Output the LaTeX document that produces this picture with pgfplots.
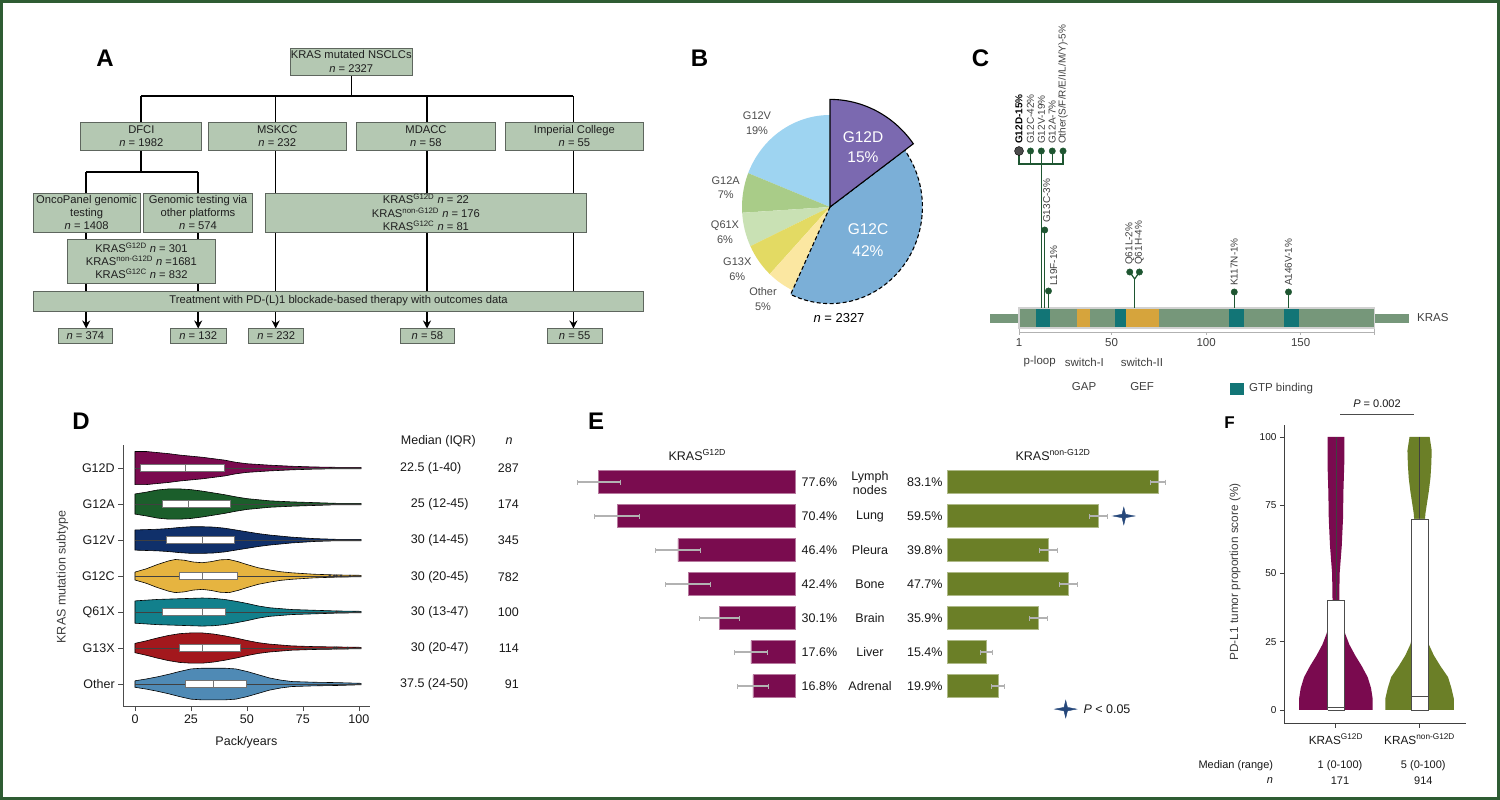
\documentclass[border=0pt]{standalone}
\usepackage{pgfplots}
\pgfplotsset{compat=1.18}
\usepackage{pgfplotstable}
\usetikzlibrary{arrows.meta}
\usepackage{fontspec}
\setmainfont{Liberation Sans}

\definecolor{frameg}{HTML}{2E5C33}
\definecolor{boxg}{HTML}{B4C8B2}
\definecolor{boxd}{HTML}{5E665E}
\definecolor{pG12D}{HTML}{7B69B0}
\definecolor{pG12C}{HTML}{7BAFD7}
\definecolor{pG12V}{HTML}{9ED4F1}
\definecolor{pG12A}{HTML}{A9CC88}
\definecolor{pQ61X}{HTML}{C9E1B4}
\definecolor{pG13X}{HTML}{E3DA63}
\definecolor{pOther}{HTML}{FBE7A1}
\definecolor{prot}{HTML}{76977A}
\definecolor{gtp}{HTML}{127576}
\definecolor{swc}{HTML}{D6A43C}
\definecolor{stem}{HTML}{1E5631}
\definecolor{vGD}{HTML}{7A0A4F}
\definecolor{vGA}{HTML}{1B5E2B}
\definecolor{vGV}{HTML}{10306A}
\definecolor{vGC}{HTML}{E6B440}
\definecolor{vQX}{HTML}{12808C}
\definecolor{vGX}{HTML}{A3181D}
\definecolor{vOT}{HTML}{4F8AB5}
\definecolor{mag}{HTML}{7A0C4F}
\definecolor{oli}{HTML}{6B7F27}
\definecolor{starc}{HTML}{25477A}

\pgfdeclareplotmark{star4}{%
  \pgfpathmoveto{\pgfqpoint{0pt}{0.8\pgfplotmarksize}}%
  \pgfpathlineto{\pgfqpoint{0.16\pgfplotmarksize}{0.16\pgfplotmarksize}}%
  \pgfpathlineto{\pgfqpoint{\pgfplotmarksize}{0pt}}%
  \pgfpathlineto{\pgfqpoint{0.16\pgfplotmarksize}{-0.16\pgfplotmarksize}}%
  \pgfpathlineto{\pgfqpoint{0pt}{-0.8\pgfplotmarksize}}%
  \pgfpathlineto{\pgfqpoint{-0.16\pgfplotmarksize}{-0.16\pgfplotmarksize}}%
  \pgfpathlineto{\pgfqpoint{-\pgfplotmarksize}{0pt}}%
  \pgfpathlineto{\pgfqpoint{-0.16\pgfplotmarksize}{0.16\pgfplotmarksize}}%
  \pgfpathclose
  \pgfusepathqfillstroke}

% ---------- Panel D violin outlines: pack/years x, signed half width w (upper side forward, lower side back)
\pgfplotstableread[row sep=\\]{
x w\\ 0 0.46\\ 5 0.46\\ 10 0.43\\ 15 0.40\\ 20 0.36\\ 25 0.33\\ 30 0.30\\ 35 0.26\\ 40 0.22\\ 45 0.16\\ 50 0.12\\ 60 0.08\\ 70 0.05\\ 80 0.03\\ 90 0.02\\ 101 0.02\\
101 -0.02\\ 90 -0.02\\ 80 -0.03\\ 70 -0.05\\ 60 -0.08\\ 50 -0.12\\ 45 -0.16\\ 40 -0.22\\ 35 -0.26\\ 30 -0.30\\ 25 -0.33\\ 20 -0.36\\ 15 -0.40\\ 10 -0.43\\ 5 -0.46\\ 0 -0.46\\ 0 0.46\\
}\vtGD
\pgfplotstableread[row sep=\\]{
x w\\ 0 0.28\\ 5 0.33\\ 10 0.39\\ 15 0.42\\ 20 0.42\\ 25 0.40\\ 30 0.36\\ 35 0.31\\ 40 0.26\\ 45 0.20\\ 50 0.15\\ 60 0.09\\ 70 0.06\\ 80 0.04\\ 90 0.02\\ 101 0.02\\
101 -0.02\\ 90 -0.02\\ 80 -0.04\\ 70 -0.06\\ 60 -0.09\\ 50 -0.15\\ 45 -0.20\\ 40 -0.26\\ 35 -0.31\\ 30 -0.36\\ 25 -0.40\\ 20 -0.42\\ 15 -0.42\\ 10 -0.39\\ 5 -0.33\\ 0 -0.28\\ 0 0.28\\
}\vtGA
\pgfplotstableread[row sep=\\]{
x w\\ 0 0.28\\ 5 0.29\\ 10 0.30\\ 15 0.32\\ 20 0.35\\ 25 0.37\\ 30 0.37\\ 35 0.36\\ 40 0.33\\ 45 0.28\\ 50 0.23\\ 55 0.18\\ 60 0.14\\ 70 0.08\\ 80 0.04\\ 90 0.02\\ 101 0.02\\
101 -0.02\\ 90 -0.02\\ 80 -0.04\\ 70 -0.08\\ 60 -0.14\\ 55 -0.18\\ 50 -0.23\\ 45 -0.28\\ 40 -0.33\\ 35 -0.36\\ 30 -0.37\\ 25 -0.37\\ 20 -0.35\\ 15 -0.32\\ 10 -0.30\\ 5 -0.29\\ 0 -0.28\\ 0 0.28\\
}\vtGV
\pgfplotstableread[row sep=\\]{
x w\\ 0 0.11\\ 5 0.20\\ 10 0.32\\ 15 0.42\\ 18 0.46\\ 22 0.44\\ 26 0.39\\ 30 0.37\\ 34 0.40\\ 38 0.45\\ 42 0.46\\ 46 0.40\\ 50 0.32\\ 55 0.23\\ 60 0.17\\ 65 0.12\\ 70 0.09\\ 80 0.05\\ 90 0.03\\ 101 0.02\\
101 -0.02\\ 90 -0.03\\ 80 -0.05\\ 70 -0.09\\ 65 -0.12\\ 60 -0.17\\ 55 -0.23\\ 50 -0.32\\ 46 -0.40\\ 42 -0.46\\ 38 -0.45\\ 34 -0.40\\ 30 -0.37\\ 26 -0.39\\ 22 -0.44\\ 18 -0.46\\ 15 -0.42\\ 10 -0.32\\ 5 -0.20\\ 0 -0.11\\ 0 0.11\\
}\vtGC
\pgfplotstableread[row sep=\\]{
x w\\ 0 0.31\\ 5 0.33\\ 10 0.35\\ 20 0.37\\ 25 0.38\\ 30 0.39\\ 35 0.38\\ 40 0.35\\ 45 0.30\\ 50 0.24\\ 55 0.17\\ 60 0.12\\ 70 0.07\\ 80 0.05\\ 90 0.03\\ 101 0.02\\
101 -0.02\\ 90 -0.03\\ 80 -0.05\\ 70 -0.07\\ 60 -0.12\\ 55 -0.17\\ 50 -0.24\\ 45 -0.30\\ 40 -0.35\\ 35 -0.38\\ 30 -0.39\\ 25 -0.38\\ 20 -0.37\\ 10 -0.35\\ 5 -0.33\\ 0 -0.31\\ 0 0.31\\
}\vtQX
\pgfplotstableread[row sep=\\]{
x w\\ 0 0.13\\ 5 0.20\\ 10 0.28\\ 15 0.35\\ 20 0.40\\ 25 0.42\\ 30 0.42\\ 35 0.39\\ 40 0.34\\ 45 0.28\\ 50 0.21\\ 55 0.15\\ 60 0.11\\ 70 0.06\\ 80 0.04\\ 90 0.03\\ 101 0.02\\
101 -0.02\\ 90 -0.03\\ 80 -0.04\\ 70 -0.06\\ 60 -0.11\\ 55 -0.15\\ 50 -0.21\\ 45 -0.28\\ 40 -0.34\\ 35 -0.39\\ 30 -0.42\\ 25 -0.42\\ 20 -0.40\\ 15 -0.35\\ 10 -0.28\\ 5 -0.20\\ 0 -0.13\\ 0 0.13\\
}\vtGX
\pgfplotstableread[row sep=\\]{
x w\\ 0 0.09\\ 5 0.14\\ 10 0.20\\ 15 0.27\\ 20 0.35\\ 25 0.42\\ 30 0.44\\ 35 0.44\\ 40 0.44\\ 45 0.42\\ 50 0.35\\ 55 0.26\\ 60 0.17\\ 65 0.11\\ 70 0.07\\ 80 0.05\\ 90 0.04\\ 101 0.02\\
101 -0.02\\ 90 -0.04\\ 80 -0.05\\ 70 -0.07\\ 65 -0.11\\ 60 -0.17\\ 55 -0.26\\ 50 -0.35\\ 45 -0.42\\ 40 -0.44\\ 35 -0.44\\ 30 -0.44\\ 25 -0.42\\ 20 -0.35\\ 15 -0.27\\ 10 -0.20\\ 5 -0.14\\ 0 -0.09\\ 0 0.09\\
}\vtOT
% ---------- Panel F violin outlines: score y, signed half width w
\pgfplotstableread[row sep=\\]{
y w\\ 0 0.44\\ 4 0.44\\ 8 0.42\\ 12 0.38\\ 16 0.31\\ 20 0.23\\ 24 0.16\\ 28 0.11\\ 32 0.08\\ 36 0.05\\ 40 0.04\\ 50 0.045\\ 60 0.07\\ 70 0.085\\ 80 0.09\\ 90 0.10\\ 100 0.10\\
100 -0.10\\ 90 -0.10\\ 80 -0.09\\ 70 -0.085\\ 60 -0.07\\ 50 -0.045\\ 40 -0.04\\ 36 -0.05\\ 32 -0.08\\ 28 -0.11\\ 24 -0.16\\ 20 -0.23\\ 16 -0.31\\ 12 -0.38\\ 8 -0.42\\ 4 -0.44\\ 0 -0.44\\ 0 0.44\\
}\vfGD
\pgfplotstableread[row sep=\\]{
y w\\ 0 0.41\\ 4 0.41\\ 8 0.38\\ 12 0.34\\ 16 0.25\\ 20 0.17\\ 24 0.11\\ 28 0.08\\ 32 0.06\\ 40 0.05\\ 50 0.05\\ 60 0.05\\ 68 0.06\\ 72 0.07\\ 76 0.09\\ 80 0.11\\ 85 0.13\\ 90 0.14\\ 95 0.145\\ 100 0.12\\
100 -0.12\\ 95 -0.145\\ 90 -0.14\\ 85 -0.13\\ 80 -0.11\\ 76 -0.09\\ 72 -0.07\\ 68 -0.06\\ 60 -0.05\\ 50 -0.05\\ 40 -0.05\\ 32 -0.06\\ 28 -0.08\\ 24 -0.11\\ 20 -0.17\\ 16 -0.25\\ 12 -0.34\\ 8 -0.38\\ 4 -0.41\\ 0 -0.41\\ 0 0.41\\
}\vfNG

\newcommand{\violinD}[3]{%
  \addplot[fill=#3, draw=black, line width=0.6pt] table[x=x, y expr=#2+\thisrow{w}] {#1};
  \addplot[black!75, line width=0.5pt] coordinates {(0,#2) (101,#2)};
}
\newcommand{\kr}[1]{KRAS\textsuperscript{#1}}
\newcommand{\flowbox}[5]{%
  \filldraw[fill=boxg, draw=boxd, line width=0.9pt] (#1,#2) rectangle (#3,#4);
  \node[fA] at ({(#1+#3)/2},{(#2+#4)/2}) {#5};}

\begin{document}
\begin{tikzpicture}[
  fA/.style={font=\fontsize{11.2}{13.2}\selectfont, align=center, inner sep=0pt, text=black!88},
  fB/.style={font=\fontsize{11}{14.5}\selectfont, align=center, inner sep=0pt, text=black!70},
  fC/.style={font=\fontsize{11.5}{13}\selectfont, inner sep=0pt, text=black!75},
  fCr/.style={font=\fontsize{10}{12}\selectfont, rotate=90, anchor=west, inner sep=0pt, text=black!75},
  fD/.style={font=\fontsize{12.5}{14}\selectfont, inner sep=0pt, text=black!90},
  fE/.style={font=\fontsize{12.5}{14}\selectfont, inner sep=0pt, align=center, text=black!90},
  fF/.style={font=\fontsize{11}{13}\selectfont, inner sep=0pt, text=black!90},
  lab/.style={font=\fontsize{24}{24}\selectfont\bfseries, inner sep=0pt}]
\useasboundingbox (0pt,0pt) rectangle (1500pt,-800pt);
\fill[white] (0pt,0pt) rectangle (1500pt,-800pt);

% ================= Panel B (pie) =================
\begin{axis}[at={(760pt,-327pt)}, anchor=south west, x=1pt, y=1pt,
  xmin=-70, xmax=110, ymin=-120, ymax=120, hide axis, clip=false]
  % shares (%): G12D 15, G12C 42, Other 5, G13X 6, Q61X 6, G12A 7, G12V 19
  \fill[pG12V] (axis cs:0,0) -- ++(158.4:88pt and 92pt) arc[start angle=158.4, end angle=90, x radius=88pt, y radius=92pt] -- cycle;
  \fill[pG12A] (axis cs:0,0) -- ++(183.6:88pt and 92pt) arc[start angle=183.6, end angle=158.4, x radius=88pt, y radius=92pt] -- cycle;
  \fill[pQ61X] (axis cs:0,0) -- ++(205.2:88pt and 92pt) arc[start angle=205.2, end angle=183.6, x radius=88pt, y radius=92pt] -- cycle;
  \fill[pG13X] (axis cs:0,0) -- ++(226.8:88pt and 92pt) arc[start angle=226.8, end angle=205.2, x radius=88pt, y radius=92pt] -- cycle;
  \fill[pOther] (axis cs:0,0) -- ++(244.8:88pt and 92pt) arc[start angle=244.8, end angle=226.8, x radius=88pt, y radius=92pt] -- cycle;
  \filldraw[fill=pG12C, draw=black, line width=1.1pt, dash pattern=on 4pt off 2.5pt] (axis cs:0,0) -- ++(36:92.4pt and 96.6pt) arc[start angle=36, end angle=-115.2, x radius=92.4pt, y radius=96.6pt] -- cycle;
  \filldraw[fill=pG12D, draw=black, line width=1.1pt] (axis cs:0,0) -- ++(90:103pt and 107.6pt) arc[start angle=90, end angle=36, x radius=103pt, y radius=107.6pt] -- cycle;
\end{axis}

% ================= Panel C (lollipop) =================
\begin{axis}[at={(979.31pt,-402pt)}, anchor=south west, x=1.89pt, y=1pt,
  xmin=-20, xmax=215, ymin=-70, ymax=330, hide axis, clip=false]
  \fill[prot] (axis cs:-14.1,9) rectangle (axis cs:1,18);
  \fill[prot] (axis cs:189,9) rectangle (axis cs:207.2,18);
  \filldraw[fill=prot, draw=black!18, line width=1.6pt] (axis cs:1,4) rectangle (axis cs:189,24);
  \fill[gtp] (axis cs:9.9,4.8) rectangle (axis cs:17.4,23.2);
  \fill[gtp] (axis cs:51.8,4.8) rectangle (axis cs:57.6,23.2);
  \fill[gtp] (axis cs:112,4.8) rectangle (axis cs:119.8,23.2);
  \fill[gtp] (axis cs:141.3,4.8) rectangle (axis cs:149.3,23.2);
  \fill[swc] (axis cs:31.5,4.8) rectangle (axis cs:38.6,23.2);
  \fill[swc] (axis cs:57.6,4.8) rectangle (axis cs:75.3,23.2);
  \draw[black!30, line width=1pt] (axis cs:1,0) -- (axis cs:189,0);
  \draw[black!30, line width=1pt] (axis cs:1,3) -- (axis cs:1,-3) (axis cs:189,3) -- (axis cs:189,-3)
    (axis cs:50,0) -- (axis cs:50,-3) (axis cs:100,0) -- (axis cs:100,-3) (axis cs:150,0) -- (axis cs:150,-3);
  % stems
  \addplot[stem, line width=1.2pt] coordinates {(1,181) (1,168) (24.3,168) (24.3,181)};
  \addplot[stem, line width=1.2pt] coordinates {(7.1,181) (7.1,168)};
  \addplot[stem, line width=1.2pt] coordinates {(18.6,181) (18.6,168)};
  \addplot[stem, line width=1.2pt] coordinates {(12.8,181) (12.8,24)};
  \addplot[stem, line width=1.2pt] coordinates {(14.6,102) (14.6,24)};
  \addplot[stem, line width=1.2pt] coordinates {(16.6,41) (16.6,24)};
  \addplot[stem, line width=1.2pt] coordinates {(59.6,60) (62.2,53) (64.7,60)};
  \addplot[stem, line width=1.2pt] coordinates {(62.2,53) (62.2,24)};
  \addplot[stem, line width=1.2pt] coordinates {(114.9,40) (114.9,24)};
  \addplot[stem, line width=1.2pt] coordinates {(143.6,40) (143.6,24)};
  \addplot[only marks, mark=*, mark size=3.2pt, color=stem]
    coordinates {(7.1,181) (12.8,181) (18.6,181) (24.3,181) (14.6,102) (16.6,41) (59.6,60) (64.7,60) (114.9,40) (143.6,40)};
  \addplot[only marks, mark=*, mark size=4.5pt, mark options={fill=black!70, draw=black}] coordinates {(1,181)};
  % labels
  \node[fCr, text=black] at (axis cs:1,188) {\textbf{G12D-15\%}};
  \node[fCr] at (axis cs:7.1,188) {G12C-42\%};
  \node[fCr] at (axis cs:12.8,188) {G12V-19\%};
  \node[fCr] at (axis cs:18.6,188) {G12A-7\%};
  \node[fCr] at (axis cs:24.3,188) {Other(S/F/R/E/I/L/M/Y)-5\%};
  \node[fCr] at (axis cs:15.6,109) {G13C-3\%};
  \node[fCr] at (axis cs:19.4,46) {L19F-1\%};
  \node[fCr] at (axis cs:59.6,67) {Q61L-2\%};
  \node[fCr] at (axis cs:64.7,67) {Q61H-4\%};
  \node[fCr] at (axis cs:114.9,46) {K117N-1\%};
  \node[fCr] at (axis cs:143.6,46) {A146V-1\%};
  \node[fC] at (axis cs:1,-11) {1};
  \node[fC] at (axis cs:50,-11) {50};
  \node[fC] at (axis cs:100,-11) {100};
  \node[fC] at (axis cs:150,-11) {150};
\end{axis}

% ================= Panel D (violins) =================
\begin{axis}[at={(123.2pt,-706pt)}, anchor=south west, x=2.239pt, y=36pt,
  xmin=-5.27, xmax=104.8, ymin=0.39, ymax=7.64,
  axis x line*=bottom, axis y line*=left,
  axis line style={black!70, line width=0.8pt},
  tick style={black!70, line width=0.8pt}, tick align=outside, major tick length=5pt,
  xtick={0,25,50,75,100}, ytick={1,2,3,4,5,6,7},
  yticklabels={Other,G13X,Q61X,G12C,G12V,G12A,G12D},
  tick label style={font=\fontsize{12.5}{14}\selectfont, text=black!90},
  /pgf/number format/assume math mode=true, clip=false]
  \violinD{\vtGD}{7}{vGD}
  \violinD{\vtGA}{6}{vGA}
  \violinD{\vtGV}{5}{vGV}
  \violinD{\vtGC}{4}{vGC}
  \violinD{\vtQX}{3}{vQX}
  \violinD{\vtGX}{2}{vGX}
  \violinD{\vtOT}{1}{vOT}
  \addplot[only marks, mark=*, mark size=1.1pt, color=black!80]
    coordinates {(87,4) (89,4) (90,4) (92,4) (96,4) (89,2) (90,2) (95,2) (90,3)};
  % boxes: Q1, Q3, median
  \addplot[fill=white, draw=black!55, line width=0.6pt] coordinates {(2.4,6.9) (40,6.9) (40,7.1) (2.4,7.1) (2.4,6.9)};
  \addplot[black!55, line width=0.6pt] coordinates {(22.5,6.9) (22.5,7.1)};
  \addplot[fill=white, draw=black!55, line width=0.6pt] coordinates {(12.3,5.9) (42.6,5.9) (42.6,6.1) (12.3,6.1) (12.3,5.9)};
  \addplot[black!55, line width=0.6pt] coordinates {(24,5.9) (24,6.1)};
  \addplot[fill=white, draw=black!55, line width=0.6pt] coordinates {(14,4.9) (44.5,4.9) (44.5,5.1) (14,5.1) (14,4.9)};
  \addplot[black!55, line width=0.6pt] coordinates {(30,4.9) (30,5.1)};
  \addplot[fill=white, draw=black!55, line width=0.6pt] coordinates {(20,3.9) (45.5,3.9) (45.5,4.1) (20,4.1) (20,3.9)};
  \addplot[black!55, line width=0.6pt] coordinates {(30,3.9) (30,4.1)};
  \addplot[fill=white, draw=black!55, line width=0.6pt] coordinates {(12.3,2.9) (40.5,2.9) (40.5,3.1) (12.3,3.1) (12.3,2.9)};
  \addplot[black!55, line width=0.6pt] coordinates {(30,2.9) (30,3.1)};
  \addplot[fill=white, draw=black!55, line width=0.6pt] coordinates {(20,1.9) (47,1.9) (47,2.1) (20,2.1) (20,1.9)};
  \addplot[black!55, line width=0.6pt] coordinates {(30,1.9) (30,2.1)};
  \addplot[fill=white, draw=black!55, line width=0.6pt] coordinates {(22.5,0.9) (49.5,0.9) (49.5,1.1) (22.5,1.1) (22.5,0.9)};
  \addplot[black!55, line width=0.6pt] coordinates {(35,0.9) (35,1.1)};
\end{axis}

% ================= Panel E (butterfly bars) =================
\begin{axis}[at={(795.5pt,-465pt)}, anchor=north east, x=2.535pt, y=34pt,
  xmin=0, xmax=85, ymin=0.5, ymax=7.5, x dir=reverse, hide axis, clip=false,
  bar width=23pt]
  \addplot[xbar, fill=mag, draw=mag!55!white, line width=0.6pt,
    error bars/.cd, x dir=both, x explicit,
    error bar style={black!30, line width=1.1pt},
    error mark options={black!30, line width=1pt, mark size=2.5pt, rotate=90}]
    coordinates {(77.6,7) +- (8.4,0) (70.4,6) +- (8.7,0) (46.4,5) +- (9,0) (42.4,4) +- (8.7,0)
                 (30.1,3) +- (7.9,0) (17.6,2) +- (6.4,0) (16.8,1) +- (6.2,0)};
\end{axis}
\begin{axis}[at={(947.6pt,-465pt)}, anchor=north west, x=2.535pt, y=34pt,
  xmin=0, xmax=90, ymin=0.5, ymax=7.5, hide axis, clip=false,
  bar width=23pt]
  \addplot[xbar, fill=oli, draw=oli!55!white, line width=0.6pt,
    error bars/.cd, x dir=both, x explicit,
    error bar style={black!30, line width=1.1pt},
    error mark options={black!30, line width=1pt, mark size=2.5pt, rotate=90}]
    coordinates {(83.1,7) +- (3,0) (59.5,6) +- (3.4,0) (39.8,5) +- (3.4,0) (47.7,4) +- (3.6,0)
                 (35.9,3) +- (3.4,0) (15.4,2) +- (2.4,0) (19.9,1) +- (2.6,0)};
  \addplot[only marks, mark=star4, mark size=11pt, mark options={fill=starc, draw=starc}]
    coordinates {(69.5,6) (46.6,0.32)};
\end{axis}

% ================= Panel F (violins) =================
\begin{axis}[at={(1284.4pt,-723pt)}, anchor=south west, x=83.7pt, y=2.73pt,
  xmin=0.385, xmax=2.558, ymin=-4.8, ymax=104.4,
  axis x line*=bottom, axis y line*=left,
  axis line style={black!75, line width=0.8pt},
  tick style={black!75, line width=0.8pt}, tick align=outside, major tick length=4.5pt,
  xtick={1,2}, xticklabels={\kr{G12D},\kr{non-G12D}},
  ytick={0,25,50,75,100},
  yticklabel style={font=\fontsize{10}{12}\selectfont, text=black!90},
  xticklabel style={font=\fontsize{11.8}{13}\selectfont, text=black!90, yshift=-3pt},
  /pgf/number format/assume math mode=true, clip=false]
  \addplot[fill=vGD, draw=none] table[x expr=1+\thisrow{w}, y=y] {\vfGD};
  \addplot[fill=oli, draw=none] table[x expr=2+\thisrow{w}, y=y] {\vfNG};
  \addplot[black!75, line width=0.6pt] coordinates {(1,40) (1,100)};
  \addplot[black!75, line width=0.6pt] coordinates {(2,70) (2,100)};
  \addplot[fill=white, draw=black!70, line width=0.6pt] coordinates {(0.9,0) (1.1,0) (1.1,40) (0.9,40) (0.9,0)};
  \addplot[black!70, line width=0.6pt] coordinates {(0.9,1) (1.1,1)};
  \addplot[fill=white, draw=black!70, line width=0.6pt] coordinates {(1.9,0) (2.1,0) (2.1,70) (1.9,70) (1.9,0)};
  \addplot[black!70, line width=0.6pt] coordinates {(1.9,5) (2.1,5)};
\end{axis}

% ================= all texts and the flowchart (pixel coordinates, y downward) =================
\begin{scope}[x=1pt, y=-1pt]
% ----- Panel A
\node[lab] at (105,58) {A};
\draw[line width=1.5pt] (351.6,75)--(351.6,96) (141,96)--(573.4,96)
  (141,96)--(141,122) (275.7,96)--(275.7,122) (427,96)--(427,122) (573.4,96)--(573.4,122)
  (141,150)--(141,172) (86.2,172)--(198.2,172) (86.2,172)--(86.2,193) (198.2,172)--(198.2,193)
  (275.7,150)--(275.7,291) (427,150)--(427,291) (573.4,150)--(573.4,291)
  (86.2,232)--(86.2,291) (198.2,232)--(198.2,291);
\foreach \xx in {86.2,198.2,275.7,427,573.4}
  \draw[line width=1.5pt,-{Stealth[length=8pt,width=8pt]}] (\xx,311)--(\xx,328.5);
\flowbox{290}{48}{412.5}{75}{KRAS mutated NSCLCs\\\textit{n} = 2327}
\flowbox{80.8}{122}{201.9}{150}{DFCI\\\textit{n} = 1982}
\flowbox{208}{122}{346.6}{150}{MSKCC\\\textit{n} = 232}
\flowbox{356.5}{122}{495.4}{150}{MDACC\\\textit{n} = 58}
\flowbox{505}{122}{643.9}{150}{Imperial College\\\textit{n} = 55}
\flowbox{33.2}{193}{140.1}{232}{OncoPanel genomic\\testing\\\textit{n} = 1408}
\flowbox{143.9}{193}{252.1}{232}{Genomic testing via\\other platforms\\\textit{n} = 574}
\flowbox{265.3}{193}{586.6}{232}{\kr{G12D} \textit{n} = 22\\\kr{non-G12D} \textit{n} = 176\\\kr{G12C} \textit{n} = 81}
\flowbox{67.2}{239}{215.6}{283}{\kr{G12D} \textit{n} = 301\\\kr{non-G12D} \textit{n} =1681\\\kr{G12C} \textit{n} = 832}
\flowbox{33.2}{291}{643.9}{311}{Treatment with PD-(L)1 blockade-based therapy with outcomes data}
\flowbox{58}{328}{112.8}{343}{\textit{n} = 374}
\flowbox{170.4}{328}{226}{343}{\textit{n} = 132}
\flowbox{248.8}{328}{303.5}{343}{\textit{n} = 232}
\flowbox{400}{328}{454.8}{343}{\textit{n} = 58}
\flowbox{547.3}{328}{602}{343}{\textit{n} = 55}

% ----- Panel B
\node[lab] at (699.5,58) {B};
\node[fB] at (757,123) {G12V\\19\%};
\node[fB] at (725.7,187.5) {G12A\\7\%};
\node[fB] at (725,232) {Q61X\\6\%};
\node[fB] at (737.3,269) {G13X\\6\%};
\node[fB] at (763,299) {Other\\5\%};
\node[font=\fontsize{15.5}{20.5}\selectfont, align=center, text=white, inner sep=0pt] at (863,147) {G12D\\15\%};
\node[font=\fontsize{15.5}{22.5}\selectfont, align=center, text=white, inner sep=0pt] at (868,240) {G12C\\42\%};
\node[font=\fontsize{13}{15}\selectfont, inner sep=0pt] at (839,318) {\textit{n} = 2327};

% ----- Panel C
\node[lab] at (980.6,58) {C};
\node[fC, anchor=west] at (1417,318) {KRAS};
\node[fC] at (1039.7,362) {p-loop};
\node[fC] at (1084.4,362) {switch-I};
\node[fC] at (1141.9,362) {switch-II};
\node[fC] at (1084.1,387) {GAP};
\node[fC] at (1142.1,387) {GEF};
\fill[gtp] (1230,383) rectangle (1243.5,395);
\node[fC, anchor=west] at (1248.9,389) {GTP binding};

% ----- Panel D
\node[lab] at (81,421) {D};
\node[fD, rotate=90, text=black!75] at (62.5,577) {KRAS mutation subtype};
\node[fD] at (246.4,742) {Pack/years};
\node[fD] at (438.4,441) {Median (IQR)};
\node[fD] at (509,441) {\textit{n}};
\node[fD, anchor=west] at (400,468) {22.5 (1-40)};
\node[fD, anchor=west] at (410.7,504) {25 (12-45)};
\node[fD, anchor=west] at (410.7,540) {30 (14-45)};
\node[fD, anchor=west] at (410.7,577) {30 (20-45)};
\node[fD, anchor=west] at (410.7,612) {30 (13-47)};
\node[fD, anchor=west] at (410.7,648) {30 (20-47)};
\node[fD, anchor=west] at (400,684) {37.5 (24-50)};
\node[fD, anchor=east] at (519,468) {287};
\node[fD, anchor=east] at (519,504) {174};
\node[fD, anchor=east] at (519,540) {345};
\node[fD, anchor=east] at (519,577) {782};
\node[fD, anchor=east] at (519,612) {100};
\node[fD, anchor=east] at (519,648) {114};
\node[fD, anchor=east] at (519,684) {91};

% ----- Panel E
\node[lab] at (596,421) {E};
\node[fE] at (697.3,455) {\kr{G12D}};
\node[fE] at (1053,455) {\kr{non-G12D}};
\node[fE, anchor=west] at (801.5,482) {77.6\%};
\node[fE, anchor=west] at (801.5,516) {70.4\%};
\node[fE, anchor=west] at (801.5,550) {46.4\%};
\node[fE, anchor=west] at (801.5,584) {42.4\%};
\node[fE, anchor=west] at (801.5,618) {30.1\%};
\node[fE, anchor=west] at (801.5,652) {17.6\%};
\node[fE, anchor=west] at (801.5,686) {16.8\%};
\node[fE] at (870,483) {Lymph\\nodes};
\node[fE] at (870,516) {Lung};
\node[fE] at (870,550) {Pleura};
\node[fE] at (870,584) {Bone};
\node[fE] at (870,618) {Brain};
\node[fE] at (870,652) {Liver};
\node[fE] at (870,686) {Adrenal};
\node[fE, anchor=east] at (942.7,482) {83.1\%};
\node[fE, anchor=east] at (942.7,516) {59.5\%};
\node[fE, anchor=east] at (942.7,550) {39.8\%};
\node[fE, anchor=east] at (942.7,584) {47.7\%};
\node[fE, anchor=east] at (942.7,618) {35.9\%};
\node[fE, anchor=east] at (942.7,652) {15.4\%};
\node[fE, anchor=east] at (942.7,686) {19.9\%};
\node[fE, anchor=west] at (1083.3,709) {\textit{P} {\textless} 0.05};

% ----- Panel F
\node[font=\fontsize{17}{17}\selectfont\bfseries, inner sep=0pt] at (1229.5,423) {F};
\node[font=\fontsize{11.8}{13}\selectfont, rotate=90, text=black!75, inner sep=0pt] at (1235,572) {PD-L1 tumor proportion score (\%)};
\node[fF] at (1377,404) {\textit{P} = 0.002};
\draw[black!70, line width=0.8pt] (1340,414.3) -- (1414.3,414.3);
\node[fF, anchor=east] at (1273.3,766) {Median (range)};
\node[fF] at (1340,766) {1 (0-100)};
\node[fF] at (1423.3,766) {5 (0-100)};
\node[fF, anchor=east] at (1273.3,781) {\textit{n}};
\node[fF] at (1340,781) {171};
\node[fF] at (1423.3,781) {914};

% frame
\draw[frameg, line width=3pt] (1.5,1.5) rectangle (1498.5,798.5);
\end{scope}
\end{tikzpicture}
\end{document}
